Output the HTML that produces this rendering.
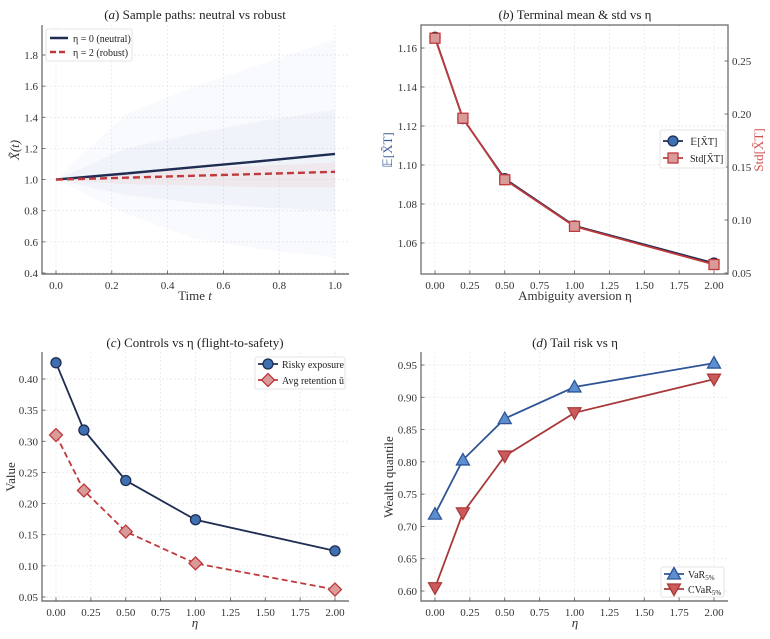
<!DOCTYPE html>
<html><head><meta charset="utf-8">
<style>
html,body{margin:0;padding:0;background:#fff;}
svg{display:block;font-family:"Liberation Serif",serif;}
</style></head>
<body>
<svg id="fig" width="770" height="639" viewBox="0 0 770 639" xmlns="http://www.w3.org/2000/svg"></svg>
<script>
// ---- data ----
const etas = [0, 0.2, 0.5, 1.0, 2.0];
const meanXT = [1.1655, 1.1238, 1.093, 1.0688, 1.0497];
const stdXT = [0.2715, 0.196, 0.138, 0.094, 0.058];
const riskyExposure = [0.426, 0.318, 0.237, 0.174, 0.124];
const avgRetention = [0.310, 0.221, 0.155, 0.104, 0.062];
const var5 = [0.719, 0.803, 0.867, 0.916, 0.953];
const cvar5 = [0.605, 0.721, 0.809, 0.876, 0.928];
const pathTimes = [0, 0.25, 0.5, 0.75, 1.0];
const neutralMean = [1.0, 1.039, 1.08, 1.121, 1.165];
const robustMean = [1.0, 1.012, 1.025, 1.037, 1.05];
const neutralUpper = [1.0, 1.42, 1.6, 1.75, 1.9];
const neutralLower = [1.0, 0.78, 0.62, 0.55, 0.5];
const neutralUpperCore = [1.0, 1.2, 1.3, 1.38, 1.45];
const neutralLowerCore = [1.0, 0.9, 0.85, 0.82, 0.8];
const robustUpper = [1.0, 1.05, 1.07, 1.09, 1.11];
const robustLower = [1.0, 0.97, 0.96, 0.95, 0.95];
const ticksA_x = [0, 0.2, 0.4, 0.6, 0.8, 1.0];
const ticksA_y = [0.4, 0.6, 0.8, 1.0, 1.2, 1.4, 1.6, 1.8];
const ticksEta = [0, 0.25, 0.5, 0.75, 1.0, 1.25, 1.5, 1.75, 2.0];
const ticksB_y = [1.06, 1.08, 1.10, 1.12, 1.14, 1.16];
const ticksB_y2 = [0.05, 0.10, 0.15, 0.20, 0.25];
const ticksC_y = [0.05, 0.10, 0.15, 0.20, 0.25, 0.30, 0.35, 0.40];
const ticksD_y = [0.60, 0.65, 0.70, 0.75, 0.80, 0.85, 0.90, 0.95];

const NS = "http://www.w3.org/2000/svg";
const svg = document.getElementById('fig');
function el(tag, attrs, parent, text) {
  const e = document.createElementNS(NS, tag);
  for (const k in attrs) e.setAttribute(k, attrs[k]);
  if (text !== undefined) e.textContent = text;
  (parent || svg).appendChild(e);
  return e;
}
function lin(d0, d1, r0, r1) { return v => r0 + (v - d0) * (r1 - r0) / (d1 - d0); }
const NAVY = '#1f2d52', RED = '#c0393b', DRED = '#a8393a';

function axesFrame(g, box, xs, ys, xt, yt, fmtx, fmty, full, name) {
  for (const t of xt) {
    const l = el('line', {x1: xs(t), x2: xs(t), y1: box.t, y2: box.b, stroke: '#e4e4e4', 'stroke-width': 0.7, 'stroke-dasharray': '2,2'}, g);
    
    
  }
  for (const t of yt) {
    const l = el('line', {x1: box.l, x2: box.r, y1: ys(t), y2: ys(t), stroke: '#e4e4e4', 'stroke-width': 0.7, 'stroke-dasharray': '2,2'}, g);
    
    
  }
  const sp = {stroke: '#777', 'stroke-width': 1.4, fill: 'none'};
  if (full) {
    const r = el('rect', Object.assign({x: box.l, y: box.t, width: box.r - box.l, height: box.b - box.t}, sp), g);
    
    
  } else {
    const p = el('path', Object.assign({d: `M${box.l},${box.t} V${box.b} H${box.r}`}, sp), g);
    
    
  }
  for (const t of xt) {
    el('line', {x1: xs(t), x2: xs(t), y1: box.b, y2: box.b - 3.5, stroke: '#555', 'stroke-width': 0.8}, g);
    const tx = el('text', {x: xs(t), y: box.b + 15, 'text-anchor': 'middle', 'font-size': 11, fill: '#333'}, g, fmtx(t));
    
    
  }
  for (const t of yt) {
    el('line', {x1: box.l, x2: box.l + 3.5, y1: ys(t), y2: ys(t), stroke: '#555', 'stroke-width': 0.8}, g);
    const tx = el('text', {x: box.l - 4, y: ys(t) + 4, 'text-anchor': 'end', 'font-size': 11, fill: '#333'}, g, fmty(t));
    
    
  }
}
function poly(xs, ys, X, Y) { return X.map((x, i) => `${i ? 'L' : 'M'}${xs(x).toFixed(1)},${ys(Y[i]).toFixed(1)}`).join(' '); }
function title(g, x, y, letter, rest, name) {
  const t = el('text', {x: x, y: y, 'text-anchor': 'middle', 'font-size': 13, fill: '#222'}, g);
  
  
  el('tspan', {}, t, '(');
  el('tspan', {'font-style': 'italic'}, t, letter);
  el('tspan', {}, t, ') ' + rest);
  return t;
}
function marker(g, kind, x, y, fill, stroke, name) {
  let m;
  if (kind === 'circle') m = el('circle', {cx: x, cy: y, r: 5, fill: fill, stroke: stroke, 'stroke-width': 1.3}, g);
  else if (kind === 'square') m = el('rect', {x: x - 5, y: y - 5, width: 10, height: 10, fill: fill, stroke: stroke, 'stroke-width': 1.3}, g);
  else if (kind === 'diamond') m = el('path', {d: `M${x},${y - 6.5} L${x + 6.5},${y} L${x},${y + 6.5} L${x - 6.5},${y} Z`, fill: fill, stroke: stroke, 'stroke-width': 1.3}, g);
  else if (kind === 'up') m = el('path', {d: `M${x},${y - 6.5} L${x + 6.5},${y + 5} L${x - 6.5},${y + 5} Z`, fill: fill, stroke: stroke, 'stroke-width': 1.3}, g);
  else m = el('path', {d: `M${x},${y + 6.5} L${x + 6.5},${y - 5} L${x - 6.5},${y - 5} Z`, fill: fill, stroke: stroke, 'stroke-width': 1.3}, g);
  
  
}
const f1 = v => v.toFixed(1), f2 = v => v.toFixed(2);

// ---- Panel A ----
(function () {
  const g = el('g', {});  
  const box = {l: 42, r: 349, t: 25, b: 274};
  const xs = lin(0, 1, 56, 335), ys = lin(0.4, 1.8, 273, 55);
  axesFrame(g, box, xs, ys, ticksA_x, ticksA_y, f1, f1, false, 'panel-a');
  const band = (U, L, fill, op, nm) => {
    const d = poly(xs, ys, pathTimes, U) + ' ' + poly(xs, ys, pathTimes.slice().reverse(), L.slice().reverse()).replace('M', 'L') + ' Z';
    const p = el('path', {d: d, fill: fill, opacity: op}, g);
    
    
  };
  band(neutralUpper, neutralLower, '#b8cde8', 0.09, 'neutral-paths-outer-band');
  band(neutralUpperCore, neutralLowerCore, '#b8cde8', 0.12, 'neutral-paths-core-band');
  band(robustUpper, robustLower, '#eab0b0', 0.15, 'robust-paths-band');
  const l1 = el('path', {d: poly(xs, ys, pathTimes, neutralMean), stroke: NAVY, 'stroke-width': 2.4, fill: 'none'}, g);
   
  const l2 = el('path', {d: poly(xs, ys, pathTimes, robustMean), stroke: RED, 'stroke-width': 2.4, fill: 'none', 'stroke-dasharray': '7,4'}, g);
   
  title(g, 195, 19, 'a', 'Sample paths: neutral vs robust', 'panel-a-title');
  const xl = el('text', {x: 195, y: 300, 'text-anchor': 'middle', 'font-size': 13, fill: '#333'}, g);
   
  el('tspan', {}, xl, 'Time '); el('tspan', {'font-style': 'italic'}, xl, 't');
  const yl = el('text', {x: 0, y: 0, transform: 'translate(19,150) rotate(-90)', 'text-anchor': 'middle', 'font-size': 13, fill: '#333', 'font-style': 'italic'}, g, 'X̃(t)');
   
  const lg = el('g', {}, g);  
  el('rect', {x: 46, y: 29, width: 86, height: 32, fill: '#fff', stroke: '#ddd', 'stroke-width': 0.8, rx: 2}, lg);
  el('line', {x1: 50, x2: 68, y1: 38, y2: 38, stroke: NAVY, 'stroke-width': 2.4}, lg);
  const e1 = el('text', {x: 73, y: 42, 'font-size': 10, fill: '#222'}, lg, 'η = 0 (neutral)');
   
  el('line', {x1: 50, x2: 68, y1: 52, y2: 52, stroke: RED, 'stroke-width': 2.4, 'stroke-dasharray': '6,3'}, lg);
  const e2 = el('text', {x: 73, y: 56, 'font-size': 10, fill: '#222'}, lg, 'η = 2 (robust)');
   
})();

// ---- Panel B ----
(function () {
  const g = el('g', {});  
  const box = {l: 421, r: 728, t: 25, b: 274};
  const xs = lin(0, 2, 435, 714), ys = lin(1.06, 1.16, 243, 48), ys2 = lin(0.05, 0.25, 273, 61);
  axesFrame(g, box, xs, ys, ticksEta, ticksB_y, f2, f2, true, 'panel-b');
  for (const t of ticksB_y2) {
    el('line', {x1: box.r, x2: box.r - 3.5, y1: ys2(t), y2: ys2(t), stroke: '#555', 'stroke-width': 0.8}, g);
    const tx = el('text', {x: box.r + 4, y: ys2(t) + 4, 'font-size': 11, fill: '#333'}, g, f2(t));
     
  }
  const l1 = el('path', {d: poly(xs, ys, etas, meanXT), stroke: NAVY, 'stroke-width': 1.8, fill: 'none'}, g);
   
  etas.forEach((e, i) => marker(g, 'circle', xs(e), ys(meanXT[i]), '#3e6fb0', NAVY, 'mean-point'));
  const l2 = el('path', {d: poly(xs, ys2, etas, stdXT), stroke: RED, 'stroke-width': 1.8, fill: 'none'}, g);
   
  etas.forEach((e, i) => marker(g, 'square', xs(e), ys2(stdXT[i]), '#d99a9a', RED, 'std-point'));
  title(g, 575, 19, 'b', 'Terminal mean & std vs η', 'panel-b-title');
  const xl = el('text', {x: 575, y: 300, 'text-anchor': 'middle', 'font-size': 13, fill: '#333'}, g, 'Ambiguity aversion η');
   
  const yl = el('text', {transform: 'translate(392,150) rotate(-90)', 'text-anchor': 'middle', 'font-size': 13, fill: '#3e5f9a'}, g, '𝔼[X̃T]');
   
  const yr = el('text', {transform: 'translate(763,150) rotate(-90)', 'text-anchor': 'middle', 'font-size': 13, fill: '#d05050'}, g, 'Std[X̃T]');
   
  const lg = el('g', {}, g);  
  el('rect', {x: 660, y: 130, width: 66, height: 38, fill: '#fff', stroke: '#ddd', 'stroke-width': 0.8, rx: 2}, lg);
  el('line', {x1: 663, x2: 683, y1: 141, y2: 141, stroke: NAVY, 'stroke-width': 1.8}, lg);
  marker(lg, 'circle', 673, 141, '#3e6fb0', NAVY, 'legend-marker-mean');
  const e1 = el('text', {x: 690, y: 145, 'font-size': 10, fill: '#222'}, lg, '𝔼[X̃T]');
   
  el('line', {x1: 663, x2: 683, y1: 158, y2: 158, stroke: RED, 'stroke-width': 1.8}, lg);
  marker(lg, 'square', 673, 158, '#d99a9a', RED, 'legend-marker-std');
  const e2 = el('text', {x: 690, y: 162, 'font-size': 10, fill: '#222'}, lg, 'Std[X̃T]');
   
})();

// ---- Panel C ----
(function () {
  const g = el('g', {});  
  const box = {l: 42, r: 349, t: 352, b: 601};
  const xs = lin(0, 2, 56, 335), ys = lin(0.05, 0.40, 597, 379);
  axesFrame(g, box, xs, ys, ticksEta, ticksC_y, f2, f2, false, 'panel-c');
  const l1 = el('path', {d: poly(xs, ys, etas, riskyExposure), stroke: NAVY, 'stroke-width': 1.8, fill: 'none'}, g);
   
  etas.forEach((e, i) => marker(g, 'circle', xs(e), ys(riskyExposure[i]), '#3e6fb0', NAVY, 'risky-exposure-point'));
  const l2 = el('path', {d: poly(xs, ys, etas, avgRetention), stroke: RED, 'stroke-width': 1.8, fill: 'none', 'stroke-dasharray': '6,3.5'}, g);
   
  etas.forEach((e, i) => marker(g, 'diamond', xs(e), ys(avgRetention[i]), '#d99a9a', RED, 'avg-retention-point'));
  title(g, 195, 347, 'c', 'Controls vs η (flight-to-safety)', 'panel-c-title');
  const xl = el('text', {x: 195, y: 627, 'text-anchor': 'middle', 'font-size': 13, fill: '#333', 'font-style': 'italic'}, g, 'η');
   
  const yl = el('text', {transform: 'translate(15,477) rotate(-90)', 'text-anchor': 'middle', 'font-size': 13, fill: '#333'}, g, 'Value');
   
  const lg = el('g', {}, g);  
  el('rect', {x: 255, y: 357, width: 90, height: 32, fill: '#fff', stroke: '#ddd', 'stroke-width': 0.8, rx: 2}, lg);
  el('line', {x1: 258, x2: 278, y1: 364, y2: 364, stroke: NAVY, 'stroke-width': 1.8}, lg);
  marker(lg, 'circle', 268, 364, '#3e6fb0', NAVY, 'legend-marker-risky');
  const e1 = el('text', {x: 282, y: 368, 'font-size': 10, fill: '#222'}, lg, 'Risky exposure');
   
  el('line', {x1: 258, x2: 278, y1: 380, y2: 380, stroke: RED, 'stroke-width': 1.8, 'stroke-dasharray': '5,3'}, lg);
  marker(lg, 'diamond', 268, 380, '#d99a9a', RED, 'legend-marker-retention');
  const e2 = el('text', {x: 282, y: 384, 'font-size': 10, fill: '#222'}, lg, 'Avg retention ū');
   
})();

// ---- Panel D ----
(function () {
  const g = el('g', {});  
  const box = {l: 421, r: 728, t: 352, b: 601};
  const xs = lin(0, 2, 435, 714), ys = lin(0.60, 0.95, 591, 365);
  axesFrame(g, box, xs, ys, ticksEta, ticksD_y, f2, f2, false, 'panel-d');
  const l1 = el('path', {d: poly(xs, ys, etas, var5), stroke: '#2f5597', 'stroke-width': 1.8, fill: 'none'}, g);
   
  etas.forEach((e, i) => marker(g, 'up', xs(e), ys(var5[i]), '#5b8fd0', '#2f5597', 'var-point'));
  const l2 = el('path', {d: poly(xs, ys, etas, cvar5), stroke: DRED, 'stroke-width': 1.8, fill: 'none'}, g);
   
  etas.forEach((e, i) => marker(g, 'down', xs(e), ys(cvar5[i]), '#cc5a5a', DRED, 'cvar-point'));
  title(g, 575, 347, 'd', 'Tail risk vs η', 'panel-d-title');
  const xl = el('text', {x: 575, y: 627, 'text-anchor': 'middle', 'font-size': 13, fill: '#333', 'font-style': 'italic'}, g, 'η');
   
  const yl = el('text', {transform: 'translate(393,477) rotate(-90)', 'text-anchor': 'middle', 'font-size': 13, fill: '#333'}, g, 'Wealth quantile');
   
  const lg = el('g', {}, g);  
  el('rect', {x: 661, y: 567, width: 63, height: 30, fill: '#fff', stroke: '#ddd', 'stroke-width': 0.8, rx: 2}, lg);
  el('line', {x1: 664, x2: 684, y1: 574, y2: 574, stroke: '#2f5597', 'stroke-width': 1.8}, lg);
  marker(lg, 'up', 674, 574, '#5b8fd0', '#2f5597', 'legend-marker-var');
  const e1 = el('text', {x: 688, y: 578, 'font-size': 10, fill: '#222'}, lg);
   
  el('tspan', {}, e1, 'VaR'); el('tspan', {'font-size': 7, dy: 2}, e1, '5%');
  el('line', {x1: 664, x2: 684, y1: 589, y2: 589, stroke: DRED, 'stroke-width': 1.8}, lg);
  marker(lg, 'down', 674, 589, '#cc5a5a', DRED, 'legend-marker-cvar');
  const e2 = el('text', {x: 688, y: 593, 'font-size': 10, fill: '#222'}, lg);
   
  el('tspan', {}, e2, 'CVaR'); el('tspan', {'font-size': 7, dy: 2}, e2, '5%');
})();
</script>
</body></html>
